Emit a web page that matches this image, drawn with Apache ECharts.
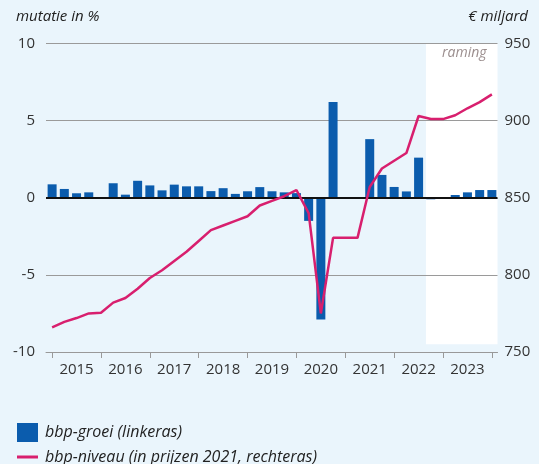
<!DOCTYPE html>
<html><head><meta charset="utf-8">
<script src="https://cdn.jsdelivr.net/npm/echarts@6/dist/echarts.min.js"></script>
<style>html,body{margin:0;padding:0;background:#eaf5fc}#c{width:539px;height:464px}</style>
</head><body><div id="c"></div>
<script>
// Quarterly data, plotted at quarter end (first point = end of 2014)
const quarters = ['2014-K4',
  '2015-K1','2015-K2','2015-K3','2015-K4',
  '2016-K1','2016-K2','2016-K3','2016-K4',
  '2017-K1','2017-K2','2017-K3','2017-K4',
  '2018-K1','2018-K2','2018-K3','2018-K4',
  '2019-K1','2019-K2','2019-K3','2019-K4',
  '2020-K1','2020-K2','2020-K3','2020-K4',
  '2021-K1','2021-K2','2021-K3','2021-K4',
  '2022-K1','2022-K2','2022-K3','2022-K4',
  '2023-K1','2023-K2','2023-K3','2023-K4'];
// bbp-groei (%), linkeras
const growth = [0.87,
  0.57,0.29,0.35,0.03,
  0.94,0.20,1.10,0.80,
  0.48,0.85,0.74,0.74,
  0.43,0.62,0.25,0.42,
  0.69,0.42,0.35,0.30,
  -1.5,-7.9,6.2,-0.05,
  -0.05,3.8,1.48,0.70,
  0.41,2.6,-0.1,0.0,
  0.18,0.35,0.5,0.5];
// bbp-niveau (€ miljard, prijzen 2021), rechteras
const level = [766,
  769.5,772,775,775.5,
  782,785,791,798,
  803,809,815,822,
  829,832,835,838,
  845,848,851,855,
  840,775,824,824,
  824,857,869,874,
  879,903,901,901,
  903.5,908,912,917];
const years = ['2015','2016','2017','2018','2019','2020','2021','2022','2023'];
const forecastStart = 30.6; // between 2022-K2 and 2022-K3
const leftTicks = [-10,-5,0,5,10];
const rightTicks = [750,800,850,900,950];
const barName = 'bbp-groei (linkeras)';
const lineName = 'bbp-niveau (in prijzen 2021, rechteras)';

const FONT = 'Open Sans';
const tickPos = years.map((y,k)=>4*k).concat([4*years.length]);
const labelPos = years.map((y,k)=>4*k+2);
const legendText = {fontFamily: FONT, fontStyle: 'italic', fontSize: 16, color: '#222', padding: [0,0,0,2]};
const titleText = {fontFamily: FONT, fontStyle: 'italic', fontWeight: 'normal', fontSize: 15, color: '#222'};

const chart = echarts.init(document.getElementById('c'), null, {renderer:'canvas'});
chart.setOption({
  backgroundColor: '#eaf5fc',
  animation: false,
  textStyle: {fontFamily: FONT},
  title: [
    {text: 'mutatie in %', left: 11, top: 4, textStyle: titleText},
    {text: '€ miljard', right: 6, top: 4, textStyle: titleText}
  ],
  grid: {left: 46, right: 41.5, top: 43.5, bottom: 112, containLabel: false},
  legend: [
    {left: 12, top: 418, itemWidth: 21, itemHeight: 19, icon: 'rect', selectedMode: false,
     textStyle: legendText, data: [barName]},
    {left: 12, top: 444, itemWidth: 21, itemHeight: 3, icon: 'rect', selectedMode: false,
     textStyle: legendText, data: [lineName]}
  ],
  xAxis: {
    type: 'value', min: -0.5, max: 36.46,
    axisLine: {show: true, onZero: false, lineStyle: {color: '#999', width: 1}},
    axisTick: {show: true, customValues: tickPos, length: 6, lineStyle: {color: '#999'}},
    axisLabel: {show: true, customValues: labelPos, margin: 10, fontFamily: FONT, fontSize: 15, color: '#333',
      formatter: v => years[Math.round((v-2)/4)] || ''},
    splitLine: {show: false}
  },
  yAxis: [
    {type: 'value', min: leftTicks[0], max: leftTicks[leftTicks.length-1], interval: 5, position: 'left',
     axisLine: {show: false}, axisTick: {show: false},
     axisLabel: {margin: 11, fontFamily: FONT, fontSize: 15, color: '#333'},
     splitLine: {show: true, lineStyle: {color: '#9a9a9a', width: 1}}},
    {type: 'value', min: rightTicks[0], max: rightTicks[rightTicks.length-1], interval: 50, position: 'right',
     axisLine: {show: false}, axisTick: {show: false},
     axisLabel: {margin: 7, fontFamily: FONT, fontSize: 15, color: '#333'},
     splitLine: {show: false}}
  ],
  series: [
    {
      name: 'raming', type: 'line', data: [], z: -1, silent: true,
      markArea: {
        z: -1, silent: true,
        itemStyle: {color: '#ffffff'},
        label: {show: true, position: 'insideTopRight', distance: 0, padding: [3, 11, 0, 0],
          fontFamily: FONT, fontStyle: 'italic', fontSize: 14, color: '#9b8e8e'},
        data: [[{name: 'raming', xAxis: forecastStart, yAxis: 10}, {xAxis: 36.46, yAxis: -9.5}]]
      }
    },
    {
      name: barName, type: 'bar', yAxisIndex: 0, barWidth: 9,
      itemStyle: {color: '#0b5cad'},
      data: growth.map((v,i)=>[i, v]),
      markLine: {
        silent: true, symbol: 'none', label: {show: false},
        lineStyle: {color: '#111', width: 2, type: 'solid'},
        data: [{yAxis: 0}]
      }
    },
    {
      name: lineName, type: 'line', yAxisIndex: 1, z: 6,
      symbol: 'none', showSymbol: false,
      lineStyle: {color: '#d81f6e', width: 2.5},
      itemStyle: {color: '#d81f6e'},
      data: level.map((v,i)=>[i, v])
    }
  ]
});
</script></body></html>
